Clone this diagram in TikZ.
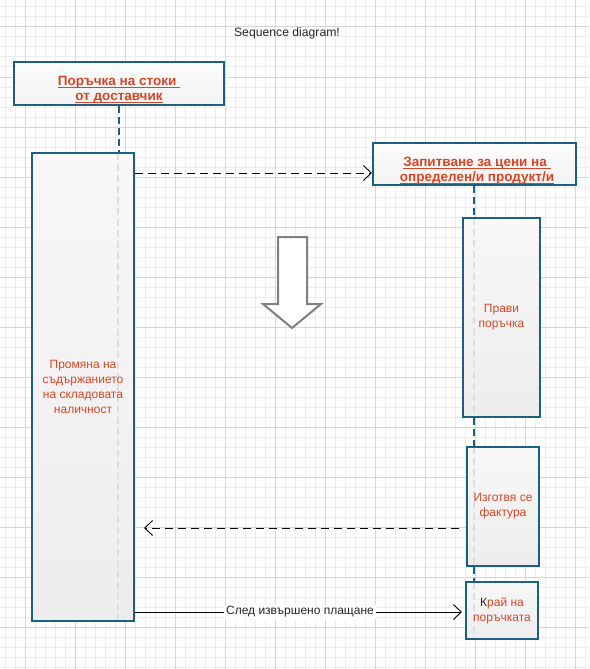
\documentclass[tikz,border=0pt]{standalone}
\usepackage{fontspec}
\setmainfont{Liberation Sans}
\usetikzlibrary{arrows.meta}
\definecolor{bord}{RGB}{28,96,128}
\definecolor{redtxt}{RGB}{214,70,38}
\definecolor{gminor}{RGB}{236,236,236}
\definecolor{gmajor}{RGB}{214,214,214}
\definecolor{faint}{RGB}{218,223,229}
\definecolor{arrgray}{RGB}{128,128,128}
\newcommand\myul[1]{\setbox0\hbox{#1}\rlap{\rule[-2.6pt]{\wd0}{1.1pt}}\box0}
\tikzset{
  headbox/.style={draw=bord, line width=2pt, top color=white!99!black, bottom color=white!95!black, inner sep=0pt},
  headtext/.style={text=redtxt, font=\bfseries\fontsize{13.5}{15}\selectfont, align=center, inner sep=0pt},
  faintline/.style={draw=faint, line width=2pt, dash pattern=on 7pt off 4pt},
  actbox/.style={draw=bord, line width=2pt, top color=white!97!black, bottom color=white!93!black,
    inner sep=0pt, text=redtxt, align=center, font=\fontsize{12}{15}\selectfont,
    path picture={\draw[faintline] ([xshift=#1]path picture bounding box.north) -- ([xshift=#1]path picture bounding box.south);}},
  lifeline/.style={draw=bord, line width=2pt, dash pattern=on 7pt off 4pt},
  msg/.style={line width=0.9pt, -{Straight Barb[length=8pt,width=15pt,line width=0.9pt]}},
  dashmsg/.style={msg, dash pattern=on 8pt off 5pt},
  lbl/.style={fill=white, inner sep=2pt, font=\fontsize{12}{15}\selectfont, text=black!85},
  titletext/.style={font=\fontsize{12.2}{15}\selectfont, text=black!85, inner sep=0pt},
  hollowarrow/.style={draw=arrgray, line width=2pt, fill=white, line join=miter}
}
\begin{document}
\begin{tikzpicture}[x=1pt,y=-1pt]
\useasboundingbox (0,0) rectangle (589,669);
\fill[white] (0,0) rectangle (589,669);
% grid
\foreach \x in {5,15,...,585} \draw[gminor, line width=1pt] (\x,0) -- (\x,669);
\foreach \y in {7,17,...,667} \draw[gminor, line width=1pt] (0,\y) -- (589,\y);
\foreach \x in {25,75,...,575} \draw[gmajor, line width=1pt] (\x,0) -- (\x,669);
\foreach \y in {27,77,...,627} \draw[gmajor, line width=1pt] (0,\y) -- (589,\y);

% title
\node[titletext] (title) at (287,33) {Sequence diagram!};

% header boxes
\node[headbox, minimum width=210pt, minimum height=43pt] (h1) at (119,83.5) {};
\node[headtext] (h1t) at (119,90) {\myul{Поръчка на стоки\ }\\\myul{от доставчик}};
\node[headbox, minimum width=203pt, minimum height=42pt] (h2) at (474.5,164) {};
\node[headtext] (h2t) at (477,170.5) {\myul{Запитване за цени на\ }\\\myul{определен/и продукт/и}};

% activation boxes
\node[actbox=35pt, minimum width=102pt, minimum height=468pt] (a1) at (83,387)
  {Промяна на\\съдържанието\\на складовата\\наличност};
\node[actbox=-27.5pt, minimum width=77pt, minimum height=199pt] (a2) at (501.5,317.5)
  {Прави\\поръчка};
\node[actbox=-29pt, minimum width=72pt, minimum height=119pt] (a3) at (503,506.5)
  {Изготвя се\\фактура};
\node[actbox=-28pt, minimum width=72pt, minimum height=57pt] (a4) at (502,610.5)
  {{\color{black!85}К}рай на\\поръчката};

% lifelines
\draw[lifeline] (h1.south) -- (h1.south |- a1.north);
\draw[lifeline] (h2.south -| 474,0) -- (a2.north -| 474,0);
\draw[lifeline] (a2.south -| 474,0) -- (a3.north -| 474,0);
\draw[lifeline] (a3.south -| 474,0) -- (a4.north -| 474,0);

% messages
\draw[dashmsg] (a1.east |- 0,173) -- (h2.west |- 0,173);
\draw[dashmsg, shorten <=7pt, shorten >=9pt] (a3.west |- 0,528) -- (a1.east |- 0,528);
\draw[msg, shorten >=3pt] (a1.east |- 0,612) -- node[lbl] {След извършено плащане} (a4.west |- 0,612);

% hollow down arrow
\draw[hollowarrow] (278,237) -- (307,237) -- (307,304) -- (321,304) -- (292,328) -- (263,304) -- (278,304) -- cycle;
\end{tikzpicture}
\end{document}
